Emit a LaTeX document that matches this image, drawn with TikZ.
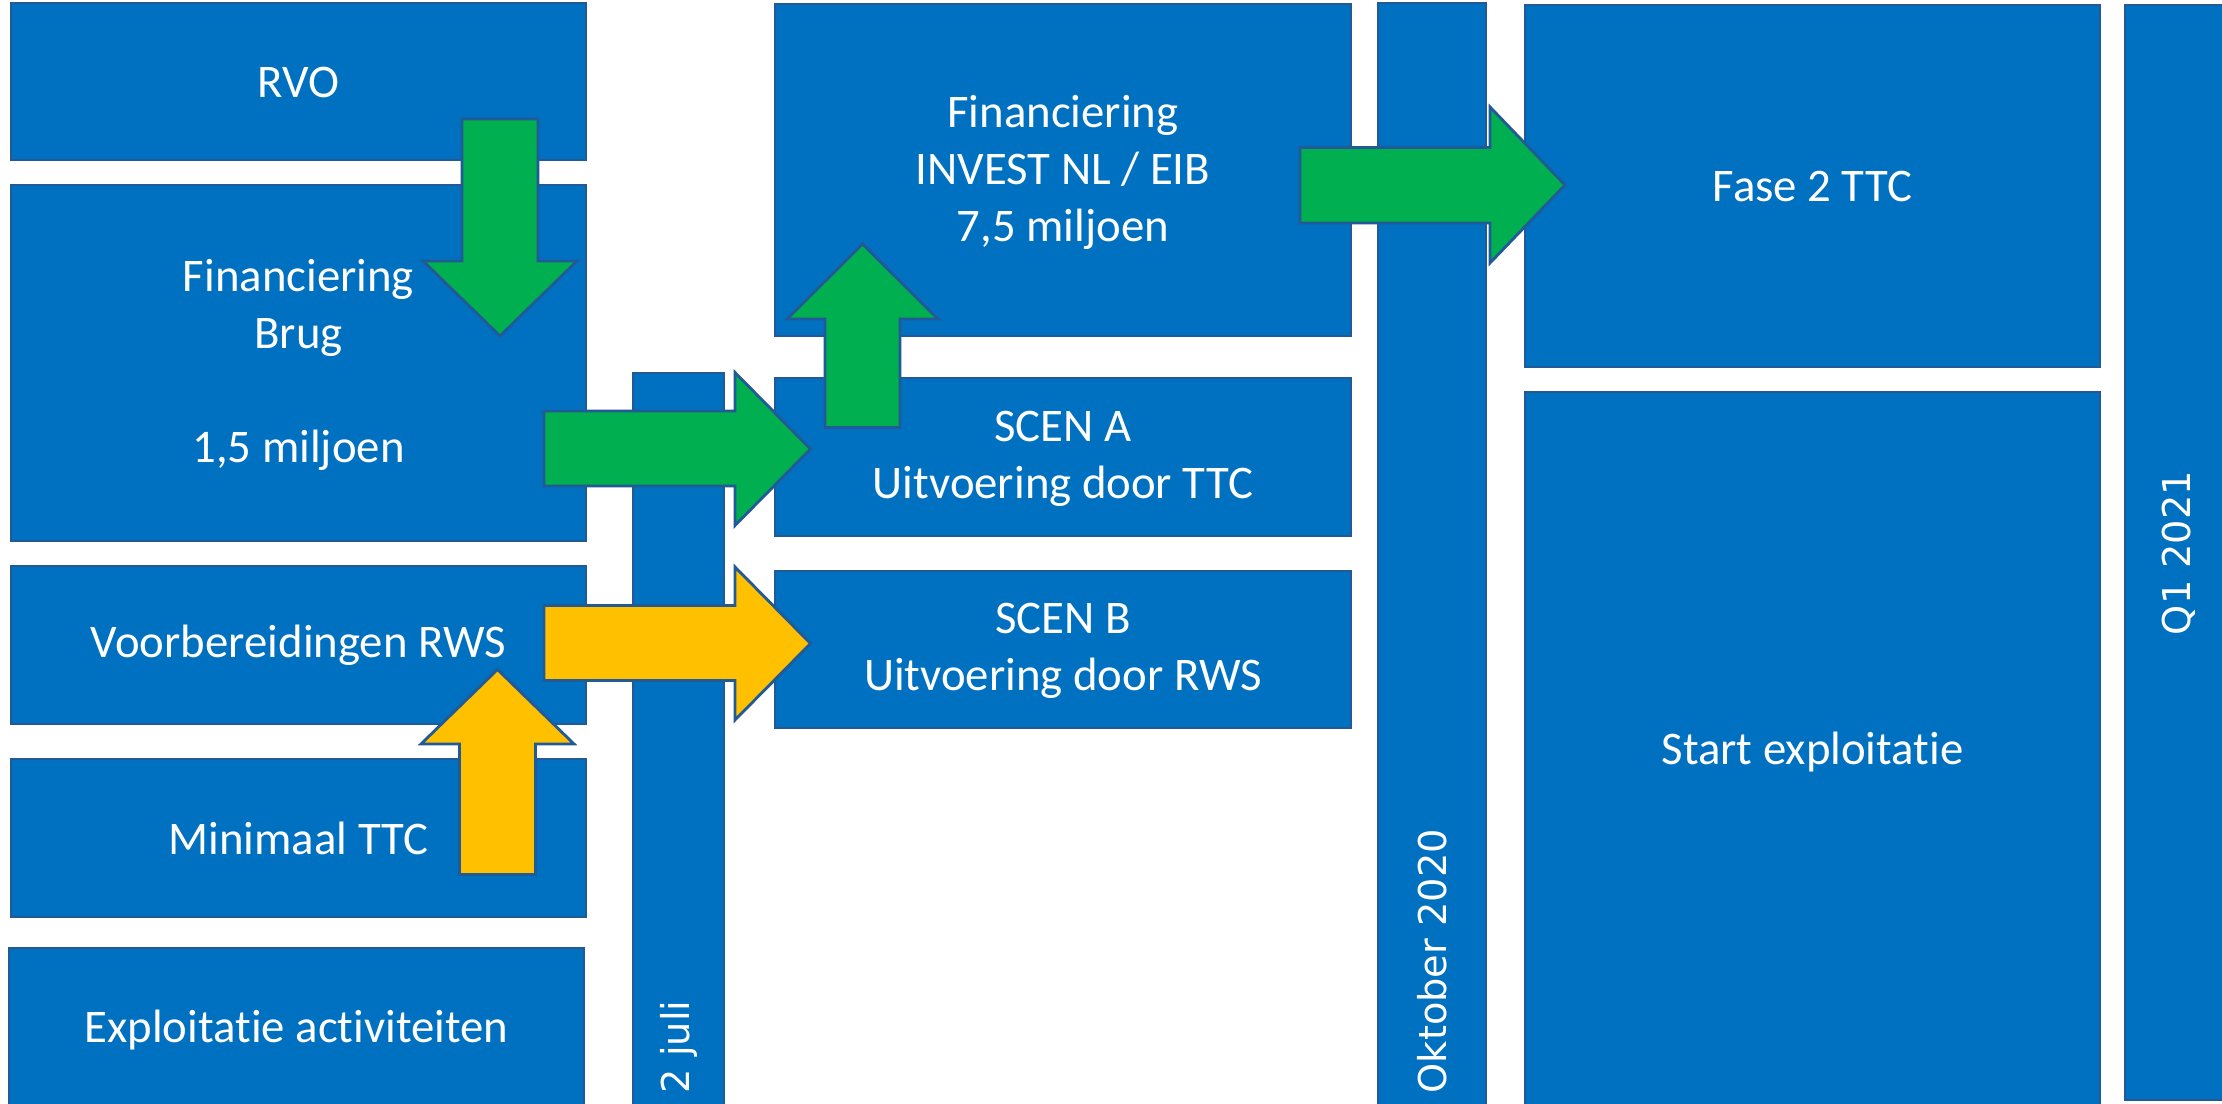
\documentclass[tikz,border=0pt]{standalone}
\usepackage{fontspec}
\setmainfont{Carlito}[Ligatures=NoCommon]
\setsansfont{DejaVu Sans}
\definecolor{boxblue}{HTML}{0070C0}
\definecolor{edgeblue}{HTML}{215A96}
\definecolor{arrgreen}{HTML}{00B050}
\definecolor{arryellow}{HTML}{FFC000}
\tikzset{
  blok/.style={rectangle, fill=boxblue, draw=edgeblue, line width=0.8pt, inner sep=0pt},
  boxtext/.style={text=white, align=center, font=\fontsize{13.3}{16.2}\selectfont, inner sep=0pt},
  vtext/.style={text=white, font=\sffamily\fontsize{10.9}{13}\selectfont, rotate=90, inner sep=0pt},
  garrow/.style={fill=arrgreen, draw=edgeblue, line width=0.8pt, line join=miter},
  yarrow/.style={fill=arryellow, draw=edgeblue, line width=0.8pt, line join=miter}
}
\begin{document}
\begin{tikzpicture}[x=0.01cm, y=-0.01cm]
\useasboundingbox (0,0) rectangle (2222,1104);
\clip (0,0) rectangle (2222,1104);
\fill[white] (0,0) rectangle (2222,1104);

% boxes
\draw[blok] (11,3) rectangle (586,160);
\node[boxtext] (rvo) at (298.5,82) {RVO};
\draw[blok] (11,185) rectangle (586,541);
\node[boxtext] (finb) at (298.5,365) {Financiering\\Brug\\[16.2pt]1,5 miljoen};
\draw[blok] (11,566) rectangle (586,724);
\node[boxtext] (voor) at (298.5,645) {Voorbereidingen RWS};
\draw[blok] (11,759) rectangle (586,917);
\node[boxtext] (mini) at (298.5,838) {Minimaal TTC};
\draw[blok] (9,948) rectangle (584,1112);
\node[boxtext] (expl) at (296.5,1030) {Exploitatie activiteiten};

\draw[blok] (633,373) rectangle (724,1120);
\node[vtext, anchor=west] (juli) at (678.5,1094) {2 juli};

\draw[blok] (775,4) rectangle (1351,336);
\node[boxtext] (inv) at (1063,172) {Financiering\\INVEST NL / EIB\\7,5 miljoen};
\draw[blok] (775,378) rectangle (1351,536);
\node[boxtext] (scena) at (1063,459) {SCEN A\\Uitvoering door TTC};
\draw[blok] (775,571) rectangle (1351,728);
\node[boxtext] (scenb) at (1063,651) {SCEN B\\Uitvoering door RWS};

\draw[blok] (1378,3) rectangle (1486,1120);
\node[vtext, anchor=west] (okt) at (1432,1094) {Oktober 2020};

\draw[blok] (1525,5) rectangle (2100,367);
\node[boxtext] (fase) at (1812.5,187) {Fase 2 TTC};
\draw[blok] (1525,392) rectangle (2100,1120);
\node[boxtext] (start) at (1812.5,752) {Start exploitatie};

\draw[blok] (2125,5) rectangle (2240,1100);
\node[vtext] (q1) at (2179,553) {Q1 2021};

% block arrows
% down green: RVO -> Financiering Brug
\draw[garrow] (462,119) -- (538,119) -- (538,261) -- (577,261) -- (500,336) -- (423,261) -- (462,261) -- cycle;
% right green: Financiering Brug -> SCEN A
\draw[garrow] (544,411) -- (735,411) -- (735,372.5) -- (810.5,449) -- (735,525.5) -- (735,486) -- (544,486) -- cycle;
% up green: SCEN A -> INVEST
\draw[garrow] (825,427.5) -- (825,319) -- (787,319) -- (862.5,244) -- (938,319) -- (900,319) -- (900,427.5) -- cycle;
% right green: INVEST -> Fase 2
\draw[garrow] (1300,147.5) -- (1490,147.5) -- (1490,107) -- (1565,185) -- (1490,263) -- (1490,223) -- (1300,223) -- cycle;
% right yellow: Voorbereidingen -> SCEN B
\draw[yarrow] (544,605.5) -- (735,605.5) -- (735,567) -- (810.5,643.5) -- (735,720) -- (735,680.5) -- (544,680.5) -- cycle;
% up yellow: Minimaal -> Voorbereidingen
\draw[yarrow] (459.5,874.5) -- (459.5,744) -- (421,744) -- (497.5,669.5) -- (574,744) -- (535.5,744) -- (535.5,874.5) -- cycle;
\end{tikzpicture}
\end{document}
